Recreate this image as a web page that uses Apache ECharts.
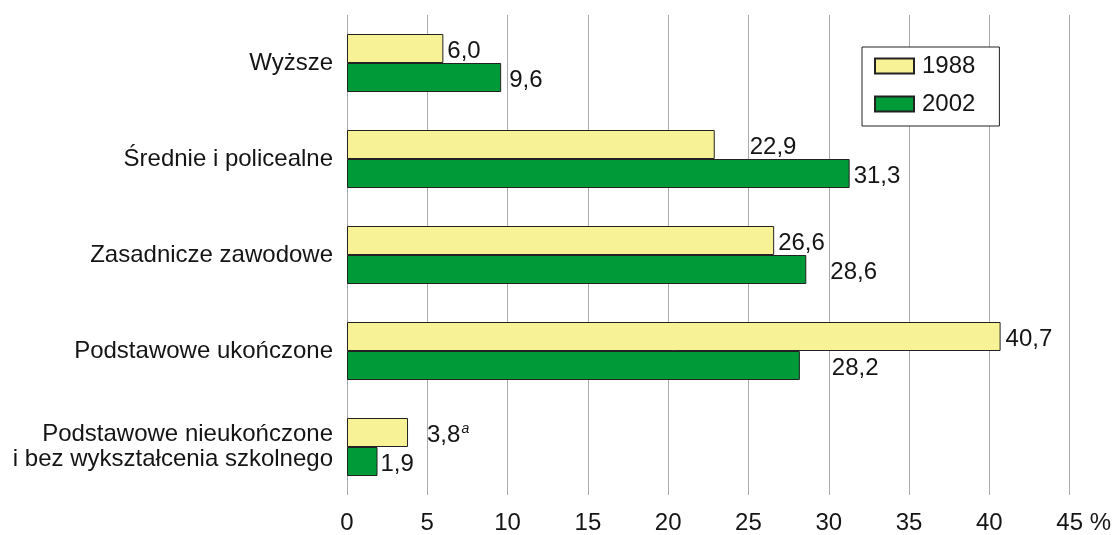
<!DOCTYPE html>
<html>
<head>
<meta charset="utf-8">
<script src="https://cdn.jsdelivr.net/npm/echarts@6/dist/echarts.min.js"></script>
<style>
  html, body { margin: 0; padding: 0; background: #ffffff; }
  #chart { width: 1114px; height: 535px; }
</style>
</head>
<body>
<div id="chart"></div>
<script>
// ---- data ----
const categories = [
  'Wyższe',
  'Średnie i policealne',
  'Zasadnicze zawodowe',
  'Podstawowe ukończone',
  'Podstawowe nieukończone\ni bez wykształcenia szkolnego'
];
const seriesNames = ['1988', '2002'];
const values1988 = [6.0, 22.9, 26.6, 40.7, 3.8];
const values2002 = [9.6, 31.3, 28.6, 28.2, 1.9];
const notes1988 = ['', '', '', '', 'a'];
const notes2002 = ['', '', '', '', ''];
const xTicks = [0, 5, 10, 15, 20, 25, 30, 35, 40, 45];
const xUnit = '%';

// ---- layout / style (label gaps from bar ends, px) ----
const gap1988 = [4, 35, 4, 5, 19];
const gap2002 = [8, 4, 24, 32, 3];

const FONT = '"Liberation Sans", Arial, Helvetica, sans-serif';
const FS = 24;
const TEXT = '#151515';

function fmtLabel(notes) {
  return function (p) {
    const s = p.value.toFixed(1).replace('.', ',');
    const n = notes[p.dataIndex];
    return n ? '{v|' + s + '}{sup|' + n + '}' : '{v|' + s + '}';
  };
}

function buildData(vals, gaps) {
  return vals.map((v, i) => ({ value: v, label: { distance: gaps[i] } }));
}

const labelRich = {
  v: { fontFamily: FONT, fontSize: FS, color: TEXT },
  sup: { fontFamily: FONT, fontSize: 14, fontStyle: 'italic', color: TEXT, padding: [0, 0, 12, 1] }
};

const chart = echarts.init(document.getElementById('chart'), null, { renderer: 'canvas' });

const option = {
  backgroundColor: '#ffffff',
  animation: false,
  grid: { left: 347, right: 37, top: 15, bottom: 38, containLabel: false },
  legend: {
    orient: 'vertical',
    left: 862,
    top: 47,
    data: seriesNames,
    backgroundColor: '#ffffff',
    borderColor: '#222222',
    borderWidth: 1,
    borderRadius: 0,
    padding: [7, 24, 10, 12],
    itemGap: 14,
    itemWidth: 39,
    itemHeight: 15,
    icon: 'rect',
    textStyle: { fontFamily: FONT, fontSize: FS, lineHeight: 23, color: TEXT, padding: [0, 0, 0, 3] }
  },
  xAxis: {
    type: 'value',
    min: xTicks[0],
    max: xTicks[xTicks.length - 1],
    interval: xTicks[1] - xTicks[0],
    axisLine: { show: false },
    axisTick: { show: false },
    splitLine: { show: true, lineStyle: { color: '#ababab', width: 1 } },
    axisLabel: {
      fontFamily: FONT,
      fontSize: FS,
      color: TEXT,
      margin: 16,
      showMaxLabel: true,
      formatter: function (v) {
        if (v === xTicks[xTicks.length - 1]) return '{a|' + v + '}{b| ' + xUnit + '}';
        return String(v);
      },
      rich: {
        a: { fontFamily: FONT, fontSize: FS, color: TEXT, padding: [0, 0, 0, 28] },
        b: { fontFamily: FONT, fontSize: FS, color: TEXT }
      }
    }
  },
  yAxis: {
    type: 'category',
    data: categories,
    inverse: true,
    axisLine: { show: false },
    axisTick: { show: false },
    splitLine: { show: false },
    axisLabel: {
      fontFamily: FONT,
      fontSize: FS,
      lineHeight: 25,
      color: TEXT,
      margin: 14,
      align: 'right'
    }
  },
  series: [
    {
      name: seriesNames[0],
      type: 'bar',
      data: buildData(values1988, gap1988),
      barWidth: 29,
      barGap: '0%',
      itemStyle: { color: '#f8f296', borderColor: '#222222', borderWidth: 1 },
      label: {
        show: true,
        position: 'right',
        offset: [0, 3],
        formatter: fmtLabel(notes1988),
        rich: labelRich
      }
    },
    {
      name: seriesNames[1],
      type: 'bar',
      data: buildData(values2002, gap2002),
      barWidth: 29,
      barGap: '0%',
      itemStyle: { color: '#009a38', borderColor: '#222222', borderWidth: 1 },
      label: {
        show: true,
        position: 'right',
        offset: [0, 3],
        formatter: fmtLabel(notes2002),
        rich: labelRich
      }
    }
  ]
};

chart.setOption(option);
</script>
</body>
</html>
